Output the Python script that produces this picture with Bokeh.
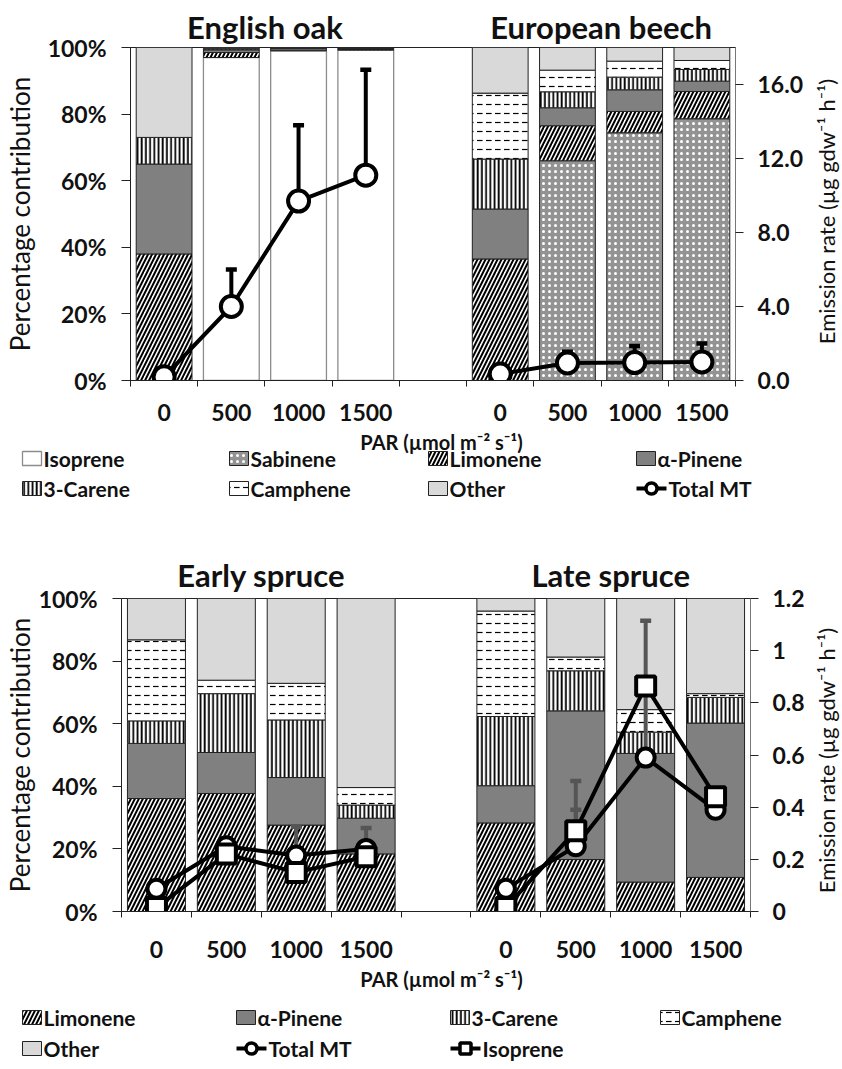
import math
import numpy as np
from bokeh.plotting import figure
from bokeh.layouts import column, row
from bokeh.models import Range1d, LinearAxis, FixedTicker, ColumnDataSource, NumeralTickFormatter
from bokeh.embed import file_html
from bokeh.resources import INLINE
from bokeh.core.properties import value

FONT = "Lato"

# ---------------- data ----------------
par_labels = ["0", "500", "1000", "1500"]
top_titles = ["English oak", "European beech"]
bottom_titles = ["Early spruce", "Late spruce"]
par_title = "PAR (µmol m⁻² s⁻¹)"
pct_title = "Percentage contribution"
rate_title = "Emission rate (µg gdw⁻¹ h⁻¹)"

# top panel (percentage contribution)
oak_isoprene = [0.0, 97.0, 99.0, 99.2]
oak_sabinene = [0.0, 0.0, 0.0, 0.0]
oak_limonene = [38.0, 1.5, 0.2, 0.2]
oak_apinene = [27.0, 0.8, 0.5, 0.4]
oak_carene = [8.0, 0.3, 0.1, 0.1]
oak_camphene = [0.0, 0.2, 0.1, 0.05]
oak_other = [27.0, 0.2, 0.1, 0.05]

beech_isoprene = [0.0, 0.0, 0.0, 0.0]
beech_sabinene = [0.0, 66.0, 74.4, 78.6]
beech_limonene = [36.5, 10.5, 6.4, 8.2]
beech_apinene = [15.0, 5.4, 6.5, 3.1]
beech_carene = [15.0, 4.8, 3.8, 3.5]
beech_camphene = [19.8, 6.5, 4.8, 2.7]
beech_other = [13.7, 6.8, 4.1, 3.9]

# top panel emission rates (ug gdw-1 h-1)
oak_total_mt = [0.2, 4.0, 9.7, 11.1]
oak_total_mt_err = [0.0, 2.0, 4.1, 5.7]
beech_total_mt = [0.35, 0.95, 0.97, 1.0]
beech_total_mt_err = [0.0, 0.6, 0.9, 1.0]

# bottom panel (percentage contribution)
early_limonene = [36.1, 37.7, 27.6, 18.4]
early_apinene = [17.6, 13.1, 15.2, 11.4]
early_carene = [7.2, 18.8, 18.4, 4.2]
early_camphene = [25.9, 4.3, 11.7, 5.6]
early_other = [13.2, 26.1, 27.1, 60.4]

late_limonene = [28.3, 16.6, 9.4, 10.9]
late_apinene = [11.9, 47.5, 41.1, 49.3]
late_carene = [22.1, 12.8, 6.8, 8.2]
late_camphene = [33.7, 4.4, 7.2, 1.2]
late_other = [4.0, 18.7, 35.5, 30.4]

# bottom panel emission rates
early_total_mt = [0.087, 0.25, 0.215, 0.24]
early_total_mt_err = [0.0, 0.03, 0.11, 0.08]
early_isoprene_rate = [0.015, 0.22, 0.15, 0.21]
early_isoprene_err = [0.0, 0.02, 0.02, 0.02]
late_total_mt = [0.087, 0.25, 0.59, 0.39]
late_total_mt_err = [0.0, 0.14, 0.27, 0.03]
late_isoprene_rate = [0.015, 0.31, 0.865, 0.44]
late_isoprene_err = [0.0, 0.19, 0.25, 0.03]

# ---------------- styles ----------------
STY = {
    "Isoprene": dict(fill_color="white", line_color="#8c8c8c", line_width=1.3),
    "Sabinene": dict(fill_color="#939393", line_color="#222222", line_width=1,
                     hatch_pattern="dot", hatch_color="white", hatch_scale=6, hatch_weight=1.4),
    "Limonene": dict(fill_color="white", line_color="#222222", line_width=1,
                     hatch_pattern="right_diagonal_line", hatch_color="black", hatch_scale=8, hatch_weight=2.0),
    "α-Pinene": dict(fill_color="#808080", line_color="#222222", line_width=1),
    "3-Carene": dict(fill_color="white", line_color="#222222", line_width=1,
                     hatch_pattern="vertical_line", hatch_color="black", hatch_scale=4.2, hatch_weight=1.8),
    "Camphene": dict(fill_color="white", line_color="#222222", line_width=1,
                     hatch_pattern="horizontal_dash", hatch_color="black", hatch_scale=9, hatch_weight=1.2),
    "Other": dict(fill_color="#d9d9d9", line_color="#222222", line_width=1),
}

TXT = "#111111"
W = 842
SIDE_W = 32
BAR_W = 0.83
left_pos = [0.5, 1.5, 2.5, 3.5]
right_pos = [5.5, 6.5, 7.5, 8.5]


def draw_stack(p, xs, series):
    bottom = np.zeros(len(xs))
    for name, vals in series:
        v = np.asarray(vals, float)
        top = bottom + v
        m = v > 0
        if m.any():
            src = ColumnDataSource(dict(x=np.asarray(xs)[m], b=bottom[m], t=top[m]))
            p.vbar(x="x", bottom="b", top="t", width=BAR_W, source=src, **STY[name])
        bottom = top


def draw_errors(p, xs, ys, errs, color, rng):
    xs = np.asarray(xs, float); ys = np.asarray(ys, float); e = np.asarray(errs, float)
    m = e > 0
    if not m.any():
        return
    p.segment(x0=xs[m], y0=ys[m], x1=xs[m], y1=ys[m] + e[m], line_color=color, line_width=4,
              y_range_name=rng)
    p.scatter(x=xs[m], y=ys[m] + e[m], marker="dash", size=11, line_width=4.5, line_color=color,
              y_range_name=rng)


def draw_series(p, xs, ys, marker, size, rng):
    p.line(xs, ys, line_color="black", line_width=4, y_range_name=rng)
    p.scatter(xs, ys, marker=marker, size=size, fill_color="white", line_color="black",
              line_width=4, y_range_name=rng)


def style_axes(p, titles, right_axis, x_standoff, left_label_standoff, title_standoff):
    p.xgrid.visible = False
    p.ygrid.visible = False
    p.outline_line_color = "#222222"
    p.outline_line_width = 1
    xa = p.xaxis[0]
    ticks = left_pos + right_pos
    xa.ticker = FixedTicker(ticks=ticks, minor_ticks=list(range(10)))
    xa.major_label_overrides = {t: l for t, l in zip(ticks, par_labels + par_labels)}
    xa.major_tick_out = 0
    xa.major_tick_in = 0
    xa.minor_tick_out = 6
    xa.minor_tick_in = 0
    xa.minor_tick_line_color = "#222222"
    xa.major_label_standoff = x_standoff

    ya = p.yaxis[0]
    ya.ticker = FixedTicker(ticks=[0, 20, 40, 60, 80, 100], minor_ticks=[])
    ya.major_label_overrides = {t: f"{t}%" for t in [0, 20, 40, 60, 80, 100]}
    ya.major_tick_out = 9
    ya.major_tick_in = 0
    ya.major_label_standoff = 15
    ya.axis_label = pct_title
    ya.axis_label_standoff = left_label_standoff
    ya.axis_label_text_font = FONT
    ya.axis_label_text_font_style = "normal"
    ya.axis_label_text_font_size = "26px"
    ya.axis_label_text_color = TXT

    right_axis.major_tick_out = 8
    right_axis.major_tick_in = 0
    right_axis.minor_tick_out = 0
    right_axis.minor_tick_in = 0
    right_axis.major_label_standoff = 14

    ta = LinearAxis(ticker=FixedTicker(ticks=[2.0, 7.0], minor_ticks=[]))
    ta.major_label_overrides = {2.0: titles[0], 7.0: titles[1]}
    ta.axis_line_color = None
    ta.major_tick_line_color = None
    ta.minor_tick_line_color = None
    ta.major_tick_out = 0
    ta.major_tick_in = 0
    ta.minor_tick_out = 0
    ta.minor_tick_in = 0
    ta.major_label_standoff = title_standoff
    p.add_layout(ta, "above")
    ta.major_label_text_font = FONT
    ta.major_label_text_font_style = "bold"
    ta.major_label_text_font_size = "31px"
    ta.major_label_text_color = TXT

    for ax in [xa, ya, right_axis]:
        ax.major_tick_line_color = "#222222"
        ax.major_label_text_font = FONT
        ax.major_label_text_font_style = "bold"
        ax.major_label_text_font_size = "23px"
        ax.major_label_text_color = TXT
    xa.axis_line_color = "#222222"
    ya.axis_line_color = "#222222"
    right_axis.axis_line_color = "#777777"


def blank_fig(w, h):
    f = figure(width=w, height=h, x_range=Range1d(0, w), y_range=Range1d(0, h),
               output_backend="svg", toolbar_location=None, frame_align=False,
               x_axis_location=None, y_axis_location=None,
               min_border_left=0, min_border_right=0, min_border_top=0, min_border_bottom=0)
    f.grid.visible = False
    f.outline_line_color = None
    return f


def side_label(h, y):
    f = blank_fig(SIDE_W, h)
    f.text(x=[SIDE_W / 2], y=[y], text=[rate_title], angle=math.pi / 2, text_align="center",
           text_baseline="middle", text_font=value(FONT), text_font_size="22px", text_color=TXT)
    return f


def legend_box(f, x, y, name):
    f.quad(left=[x], right=[x + 19], bottom=[y - 7], top=[y + 7], **STY[name])
    f.text(x=[x + 21], y=[y], text=[name], text_baseline="middle", text_align="left",
           text_font=value(FONT), text_font_style="bold", text_font_size="21px", text_color=TXT)


def legend_line(f, x, y, name, marker):
    f.line([x, x + 30], [y, y], line_color="black", line_width=4)
    f.scatter([x + 15], [y], marker=marker, size=11, fill_color="white", line_color="black", line_width=3.5)
    f.text(x=[x + 32], y=[y], text=[name], text_baseline="middle", text_align="left",
           text_font=value(FONT), text_font_style="bold", text_font_size="21px", text_color=TXT)


def par_text(f, y):
    f.text(x=[441], y=[y], text=[par_title], text_baseline="middle", text_align="center",
           text_font=value(FONT), text_font_style="bold", text_font_size="20px", text_color=TXT)


# ---------------- top panel ----------------
HA = 428
pA = figure(width=W - SIDE_W, height=HA, x_range=Range1d(0, 9), y_range=Range1d(0, 100),
            output_backend="svg", toolbar_location=None, frame_align=False,
            min_border_left=128, min_border_right=W - SIDE_W - 735, min_border_top=47,
            min_border_bottom=HA - 380)
pA.extra_y_ranges = {"em": Range1d(0, 18)}
raA = LinearAxis(y_range_name="em", ticker=FixedTicker(ticks=[0, 4, 8, 12, 16], minor_ticks=[]),
                 formatter=NumeralTickFormatter(format="0.0"))
pA.add_layout(raA, "right")
style_axes(pA, top_titles, raA, 17, 9, 2)

draw_stack(pA, left_pos, [("Isoprene", oak_isoprene), ("Sabinene", oak_sabinene),
                          ("Limonene", oak_limonene), ("α-Pinene", oak_apinene),
                          ("3-Carene", oak_carene), ("Camphene", oak_camphene), ("Other", oak_other)])
draw_stack(pA, right_pos, [("Isoprene", beech_isoprene), ("Sabinene", beech_sabinene),
                           ("Limonene", beech_limonene), ("α-Pinene", beech_apinene),
                           ("3-Carene", beech_carene), ("Camphene", beech_camphene), ("Other", beech_other)])
draw_errors(pA, left_pos, oak_total_mt, oak_total_mt_err, "black", "em")
draw_errors(pA, right_pos, beech_total_mt, beech_total_mt_err, "black", "em")
draw_series(pA, left_pos, oak_total_mt, "circle", 21, "em")
draw_series(pA, right_pos, beech_total_mt, "circle", 21, "em")

RA = side_label(HA, HA - 211)

# ---------------- top legend ----------------
HL1 = 82
L1 = blank_fig(W, HL1)
par_text(L1, HL1 - 13)
top_cols = [22, 229, 428, 636]
for i, name in enumerate(["Isoprene", "Sabinene", "Limonene", "α-Pinene"]):
    legend_box(L1, top_cols[i], HL1 - 30, name)
for i, name in enumerate(["3-Carene", "Camphene", "Other"]):
    legend_box(L1, top_cols[i], HL1 - 60, name)
legend_line(L1, top_cols[3], HL1 - 60, "Total MT", "circle")

# ---------------- bottom panel ----------------
TOPB = HA + HL1            # 510
HB = 452
pB = figure(width=W - SIDE_W, height=HB, x_range=Range1d(0, 9), y_range=Range1d(0, 100),
            output_backend="svg", toolbar_location=None, frame_align=False,
            min_border_left=113, min_border_right=W - SIDE_W - 750, min_border_top=598 - TOPB,
            min_border_bottom=TOPB + HB - 911)
pB.extra_y_ranges = {"em": Range1d(0, 1.2)}
raB = LinearAxis(y_range_name="em", ticker=FixedTicker(ticks=[0, 0.2, 0.4, 0.6, 0.8, 1.0, 1.2], minor_ticks=[]),
                 formatter=NumeralTickFormatter(format="0.[0]"))
pB.add_layout(raB, "right")
style_axes(pB, bottom_titles, raB, 23, 0, 5)

draw_stack(pB, left_pos, [("Limonene", early_limonene), ("α-Pinene", early_apinene),
                          ("3-Carene", early_carene), ("Camphene", early_camphene), ("Other", early_other)])
draw_stack(pB, right_pos, [("Limonene", late_limonene), ("α-Pinene", late_apinene),
                           ("3-Carene", late_carene), ("Camphene", late_camphene), ("Other", late_other)])
EB = "#555555"
draw_errors(pB, left_pos, early_total_mt, early_total_mt_err, EB, "em")
draw_errors(pB, left_pos, early_isoprene_rate, early_isoprene_err, EB, "em")
draw_errors(pB, right_pos, late_total_mt, late_total_mt_err, EB, "em")
draw_errors(pB, right_pos, late_isoprene_rate, late_isoprene_err, EB, "em")
draw_series(pB, left_pos, early_total_mt, "circle", 18, "em")
draw_series(pB, right_pos, late_total_mt, "circle", 18, "em")
draw_series(pB, left_pos, early_isoprene_rate, "square", 19, "em")
draw_series(pB, right_pos, late_isoprene_rate, "square", 19, "em")

RB = side_label(HB, HB - (760 - TOPB))

# ---------------- bottom legend ----------------
TOPL2 = TOPB + HB          # 962
HL2 = 1069 - TOPL2         # 107
L2 = blank_fig(W, HL2)
par_text(L2, HL2 - (978 - TOPL2))
bot_cols = [22, 236, 450, 660]
for i, name in enumerate(["Limonene", "α-Pinene", "3-Carene", "Camphene"]):
    legend_box(L2, bot_cols[i], HL2 - (1017 - TOPL2), name)
yb2 = HL2 - (1048 - TOPL2)
legend_box(L2, bot_cols[0], yb2, "Other")
legend_line(L2, bot_cols[1], yb2, "Total MT", "circle")
legend_line(L2, bot_cols[2], yb2, "Isoprene", "square")

layout = column(row(pA, RA, spacing=0), L1, row(pB, RB, spacing=0), L2, spacing=0)
open("out.html", "w").write(file_html(layout, INLINE))
